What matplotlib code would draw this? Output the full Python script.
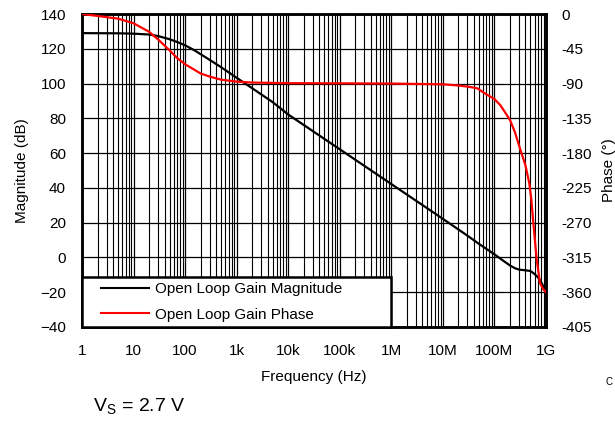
import matplotlib
matplotlib.use('Agg')
import matplotlib.pyplot as plt
from matplotlib.lines import Line2D
from matplotlib.legend_handler import HandlerLine2D
from matplotlib.ticker import FixedLocator, NullFormatter
import numpy as np

plt.rcParams['font.family'] = ['Liberation Sans', 'DejaVu Sans']

# Open loop gain magnitude (dB)
mag_freq = [1, 5, 10, 20, 30, 50, 70, 100, 150, 200, 300, 500, 1e3, 2e3, 5e3,
            1e4, 1e5, 1e6, 1e7, 3e7, 5e7, 1e8, 1.5e8, 2e8, 2.5e8, 3e8, 4e8,
            5e8, 6e8, 7e8, 8e8, 9e8, 1e9]
mag_db = [129, 128.9, 128.7, 128.2, 127.3, 125.5, 123.9, 122.0, 119.2, 116.9,
          113.6, 109.4, 103.3, 97.3, 89.3, 82.2, 62.2, 42.2, 22.2, 12.5, 7.8,
          1.8, -2.0, -4.6, -6.2, -7.0, -7.4, -7.8, -9.5, -11.5, -14.0, -17.0,
          -20.5]

# Open loop gain phase (deg)
ph_freq = [1, 2, 5, 10, 20, 30, 50, 70, 100, 150, 200, 300, 500, 1e3, 2e3,
           1e4, 1e5, 1e6, 1e7, 2e7, 3e7, 4.6e7, 7e7, 1e8, 1.3e8, 1.6e8, 2e8,
           2.5e8, 2.9e8, 3.2e8, 4e8, 4.74e8, 5.2e8, 5.67e8, 6.6e8, 7.65e8,
           8.8e8, 1e9]
ph_deg = [0, -2.5, -6, -12, -23, -33, -47, -57, -65, -72, -77, -81, -85,
          -87.5, -88.7, -89.5, -89.7, -90, -91, -92.5, -94, -96, -104, -110,
          -118, -127, -137, -153, -167, -176, -196, -219, -240, -270, -318,
          -348, -356, -360]

xticks = [1, 10, 100, 1e3, 1e4, 1e5, 1e6, 1e7, 1e8, 1e9]
xticklabels = ['1', '10', '100', '1k', '10k', '100k', '1M', '10M', '100M', '1G']
mag_ticks = list(range(-40, 141, 20))
ph_ticks = list(range(-405, 1, 45))

fig = plt.figure(figsize=(6.15, 4.21), dpi=100)
ax = fig.add_axes([82 / 615, 1 - 327 / 421, 464 / 615, 313 / 421])
ax2 = ax.twinx()

l1, = ax.plot(mag_freq, mag_db, color='black', lw=1.6, zorder=3)
l2, = ax2.plot(ph_freq, ph_deg, color='red', lw=1.6, zorder=3)

ax.set_xscale('log')
ax.set_xlim(1, 1e9)
ax.set_ylim(-40, 140)
ax2.set_ylim(-405, 0)

ax.set_xticks(xticks)
ax.set_xticklabels(xticklabels)
minors = [m * 10 ** d for d in range(9) for m in range(2, 10)]
ax.xaxis.set_minor_locator(FixedLocator(minors))
ax.xaxis.set_minor_formatter(NullFormatter())
ax.set_yticks(mag_ticks)
ax2.set_yticks(ph_ticks)
ax2.set_yticklabels([str(t) for t in ph_ticks])

ax.grid(True, which='major', axis='both', color='black', lw=0.9)
ax.grid(True, which='minor', axis='x', color='black', lw=0.8)
ax.set_axisbelow(True)

ax.tick_params(axis='both', which='both', length=0, labelsize=11)
ax.tick_params(axis='x', pad=12)
ax.tick_params(axis='y', pad=11.5)
ax2.tick_params(axis='y', length=0, labelsize=11, pad=11)

for a in (ax, ax2):
    for s in a.spines.values():
        s.set_linewidth(1.8)
        s.set_color('black')

ax.set_xlabel('Frequency (Hz)', fontsize=11, labelpad=9)
ax.set_ylabel('Magnitude (dB)', fontsize=11, labelpad=8)
fig.text(609 / 615, 1 - 170 / 421, 'Phase (°)', rotation=90, fontsize=11,
         ha='center', va='center')

leg = ax2.legend([l1, l2], ['Open Loop Gain Magnitude', 'Open Loop Gain Phase'],
                 loc='lower left', bbox_to_anchor=(0, 0, 309 / 464, 50 / 313),
                 mode='expand', borderaxespad=0, fontsize=11, fancybox=False,
                 framealpha=1, edgecolor='black', handlelength=4.05,
                 handletextpad=0.39, labelspacing=0.75, borderpad=0.35,
                 handler_map={Line2D: HandlerLine2D(xpad=0.91)})
leg.get_frame().set_linewidth(1.8)
for h in leg.get_lines():
    h.set_linewidth(1.5)

fig.text(93 / 615, 1 - 411.5 / 421, r'V$_\mathregular{S}$ = 2.7 V',
         fontsize=14, va='baseline')
fig.text(606 / 615, 1 - 385 / 421, 'C', fontsize=7, va='baseline')

fig.savefig('out.png', dpi=100)
